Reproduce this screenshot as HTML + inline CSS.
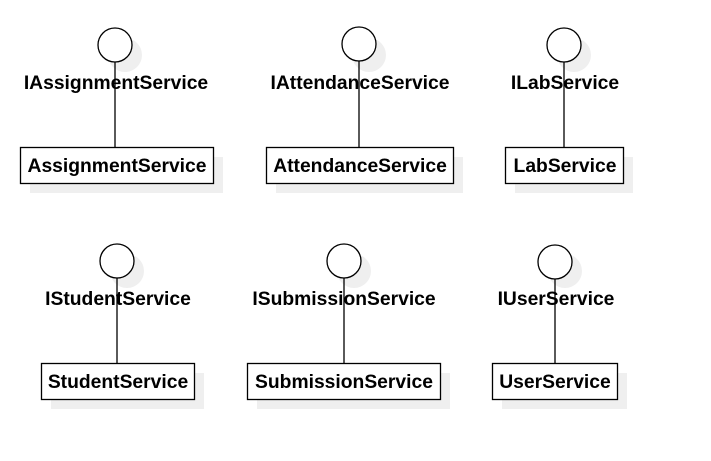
<!DOCTYPE html>
<html><head><meta charset="utf-8"><style>
html,body{margin:0;padding:0;background:#fff;}
svg{display:block;}
text{font-family:"Liberation Sans",Arial,sans-serif;font-weight:bold;font-size:19.3px;fill:#000;}
</style></head><body>
<svg width="711" height="461" viewBox="0 0 711 461" xmlns="http://www.w3.org/2000/svg">
<g fill="#efefef" stroke="none">
<circle cx="125" cy="55" r="17"/><circle cx="369" cy="55" r="17"/><circle cx="574" cy="55" r="17"/>
<circle cx="127" cy="271" r="17"/><circle cx="354" cy="271" r="17"/><circle cx="565" cy="271" r="17"/>
<rect x="30" y="157" width="193" height="36"/><rect x="276" y="157" width="187" height="36"/><rect x="515" y="157" width="118" height="36"/>
<rect x="51" y="373" width="153" height="36"/><rect x="257" y="373" width="193" height="36"/><rect x="502" y="373" width="125" height="36"/>
</g>
<g stroke="#000" stroke-width="1.3" fill="#fff">
<line x1="115" y1="62" x2="115" y2="147"/><line x1="359" y1="61" x2="359" y2="147"/><line x1="564" y1="62" x2="564" y2="147"/>
<line x1="117" y1="278" x2="117" y2="363"/><line x1="344" y1="278" x2="344" y2="363"/><line x1="555" y1="279" x2="555" y2="363"/>
<circle cx="115" cy="45" r="17"/><circle cx="359" cy="44" r="17"/><circle cx="564" cy="45" r="17"/>
<circle cx="117" cy="261" r="17"/><circle cx="344" cy="261" r="17"/><circle cx="555" cy="262" r="17"/>
<rect x="20.5" y="147.5" width="193" height="36"/><rect x="266.5" y="147.5" width="187" height="36"/><rect x="505.5" y="147.5" width="118" height="36"/>
<rect x="41.5" y="363.5" width="153" height="36"/><rect x="247.5" y="363.5" width="193" height="36"/><rect x="492.5" y="363.5" width="125" height="36"/>
</g>
<g text-anchor="middle">
<text x="116" y="89">IAssignmentService</text>
<text x="360" y="89">IAttendanceService</text>
<text x="565" y="89">ILabService</text>
<text x="118" y="305">IStudentService</text>
<text x="344" y="305">ISubmissionService</text>
<text x="556" y="305">IUserService</text>
<text x="117" y="172">AssignmentService</text>
<text x="360" y="172">AttendanceService</text>
<text x="565" y="172">LabService</text>
<text x="118" y="388">StudentService</text>
<text x="344" y="388">SubmissionService</text>
<text x="555" y="388">UserService</text>
</g>
</svg>
</body></html>
